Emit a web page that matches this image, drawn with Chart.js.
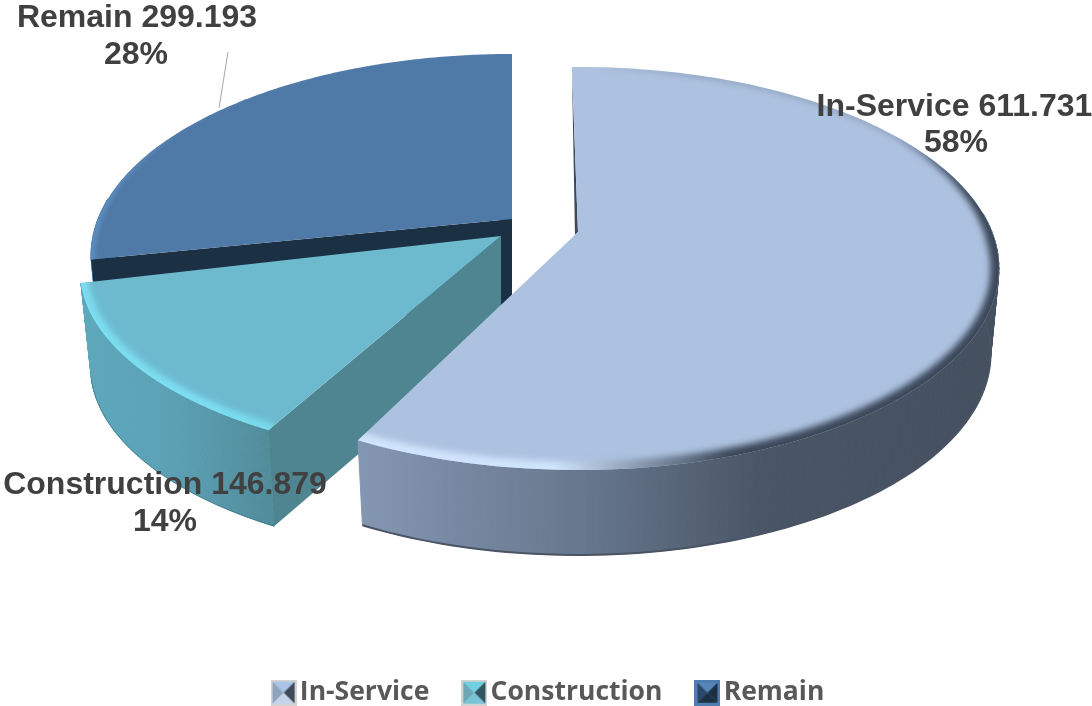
<!DOCTYPE html>
<html><head><meta charset="utf-8">
<style>html,body{margin:0;padding:0;background:#fff;overflow:hidden}canvas{display:block}</style>
<script src="https://cdn.jsdelivr.net/npm/chart.js@4"></script>
</head><body><canvas id="c" width="1092" height="706"></canvas>
<script>
const categories = ['In-Service','Construction','Remain'];
const values = [611.731,146.879,299.193];
const percents = [58,14,28];
const topColors = ['#adc2e0','#6dbacf','#4f79a6'];
const cutColors = ['#3e4a5a','#4f8591','#1c3043'];
const wallStops = [
  [[358,'#8497b2'],[600,'#64748a'],[760,'#4a5666'],[1000,'#44505e']],
  [[80,'#5ea9bd'],[180,'#5b9fb3'],[280,'#4f8a98']],
  [[90,'#4f7fb0'],[300,'#4a6f98']]
];
const rimColors = [
  {lo:[208,228,252],hi:[60,72,90]},
  {lo:[125,222,240],hi:[115,208,228]},
  {lo:[92,140,190],hi:[70,110,150]}
];
// per-slice placement of the exploded wedges (apex, small start/end rotation in degrees, flattening, wall height, wall narrowing)
const place = [
  {x:578,y:232,r0:-1,r1:-1.75,sy:1,dep:85,sh:.98},
  {x:501,y:236,r0:0,r1:-2.2,sy:.95,dep:96,sh:.975},
  {x:512,y:219,r0:.3,r1:0,sy:1,dep:86,sh:.98}
];
const RX=414, RY=194.9, P=.181;
const labelPos = [
  {x1:954.5,x2:956,y1:107,y2:143},
  {x1:165,x2:165,y1:485,y2:522},
  {x1:137,x2:136,y1:18,y2:55}
];

function pt(i,a,r,t){ // a = chart.js angle (0 = 3 o'clock), r = 0..1, t = position along the slice
  const rot=place[i].r0+(place[i].r1-place[i].r0)*t;
  const th=a+Math.PI/2+rot*Math.PI/180;
  const u=Math.sin(th)*r, v=-Math.cos(th)*r, f=1/(1-P*v);
  return {x:place[i].x+RX*u*f,y:place[i].y+RY*place[i].sy*v*f,v,u};
}
function bot(i,p){return {x:place[i].x+(p.x-place[i].x)*place[i].sh,y:p.y+place[i].dep};}
function poly(ctx,pts){ctx.beginPath();pts.forEach((p,k)=>k?ctx.lineTo(p.x,p.y):ctx.moveTo(p.x,p.y));ctx.closePath();}
function mix(a,b,t){return a.map((c,k)=>Math.round(c+(b[k]-c)*t));}

function drawSlice(ctx,chart,i){
  const el=chart.getDatasetMeta(0).data[i];
  const a0=el.startAngle,a1=el.endAngle,N=160;
  const arc=[];for(let k=0;k<=N;k++)arc.push(pt(i,a0+(a1-a0)*k/N,1,k/N));
  const apex=pt(i,a0,0,0);
  // wall (only the part facing the viewer)
  const s0=wallStops[i][0][0],s1=wallStops[i][wallStops[i].length-1][0];
  const g=ctx.createLinearGradient(s0,0,s1,0);
  wallStops[i].forEach(s=>g.addColorStop((s[0]-s0)/(s1-s0),s[1]));
  ctx.fillStyle=g;ctx.strokeStyle=g;ctx.lineWidth=1;
  const front=arc.filter(p=>p.v>-.1);
  for(let k=0;k<N;k++){
    if(arc[k].v<-.1)continue;
    const q=[arc[k],arc[k+1],bot(i,arc[k+1]),bot(i,arc[k])];
    poly(ctx,q);ctx.fill();ctx.stroke();
  }
  // darker lower edge of the wall
  ctx.beginPath();front.forEach((p,k)=>{const b=bot(i,p);k?ctx.lineTo(b.x,b.y):ctx.moveTo(b.x,b.y);});
  ctx.strokeStyle=i===0?'#4a5464':'rgba(60,110,125,.6)';ctx.lineWidth=i===0?2:1;ctx.stroke();
  // visible cut faces
  ctx.fillStyle=cutColors[i];
  if(i===0){ // narrow visible sliver of the far cut
    poly(ctx,[arc[0],apex,{x:apex.x-3,y:apex.y+3}]);ctx.fill();
  }
  if(i===1){const e=arc[0];poly(ctx,[apex,e,bot(i,e),bot(i,apex)]);ctx.fill();}
  if(i===2){
    const e=arc[0];poly(ctx,[apex,e,bot(i,e),bot(i,apex)]);ctx.fill();
    poly(ctx,[apex,bot(i,apex),{x:apex.x-12,y:apex.y+86},{x:apex.x-12,y:apex.y}]);ctx.fill();
  }
  // top
  const top=[apex,...arc];
  poly(ctx,top);ctx.fillStyle=topColors[i];ctx.fill();
  // soft bevel rim, rendered apart and blurred into the top face
  const off=document.createElement('canvas');off.width=chart.width;off.height=chart.height;
  const o=off.getContext('2d');o.lineCap='round';
  for(let k=0;k<N;k++){
    const p=arc[k],q=arc[k+1];
    const fr=Math.min(1,Math.max(0,(p.v+.55)/.6));
    let hi=Math.min(1,Math.max(0,(p.u+.05)/.35));
    if(i===1)hi=Math.min(1,Math.max(0,(p.x-200)/80))*.5;
    const c=mix(rimColors[i].lo,rimColors[i].hi,hi);
    const w=i===2?9:i===1?15:17;
    o.beginPath();o.moveTo(p.x,p.y);o.lineTo(q.x,q.y);
    o.lineWidth=w*(.12+.88*fr);
    o.strokeStyle=`rgba(${c[0]},${c[1]},${c[2]},${.55+.45*fr})`;
    o.stroke();
  }
  ctx.save();poly(ctx,top);ctx.clip();
  ctx.filter=i===2?'blur(2px)':'blur(3px)';
  ctx.drawImage(off,0,0);
  ctx.filter='none';
  ctx.restore();
}

const pie3d={
  id:'pie3d',
  beforeDatasetsDraw(chart){
    const ctx=chart.ctx;ctx.save();
    [2,1,0].forEach(i=>drawSlice(ctx,chart,i));
    ctx.restore();
    return false;
  },
  afterDraw(chart){
    const ctx=chart.ctx;ctx.save();
    ctx.strokeStyle='#a6a6a6';ctx.lineWidth=1;
    ctx.beginPath();ctx.moveTo(228,52);ctx.lineTo(219,108);ctx.stroke();
    ctx.font='bold 32px "Liberation Sans"';ctx.fillStyle='#404040';
    ctx.textAlign='center';ctx.textBaseline='middle';
    categories.forEach((c,i)=>{
      ctx.fillText(c+' '+values[i].toFixed(3),labelPos[i].x1,labelPos[i].y1);
      ctx.fillText(percents[i]+'%',labelPos[i].x2,labelPos[i].y2);
    });
    ctx.restore();
  }
};
function swatch(i){
  const c=document.createElement('canvas');c.width=26;c.height=26;
  const x=c.getContext('2d');const S=26;
  const tri=(pts,col)=>{x.fillStyle=col;x.beginPath();pts.forEach((p,k)=>k?x.lineTo(p[0],p[1]):x.moveTo(p[0],p[1]));x.closePath();x.fill();};
  const sets=[['#a9c4e8','#8fa3bf','#3f4a59','#c3d3ea'],['#6fd0e4','#6aa8b8','#2f5660','#79c3d6'],['#5686b8','#2d4768','#1c3043','#1c3043']];
  if(i===2){x.fillStyle='#4f7db0';x.fillRect(0,0,S,S);}
  const m=i===2?3:2;const o=S-m;const C=S/2;
  if(i!==2){x.fillStyle='#d2d2d2';x.fillRect(0,0,S,S);}
  const s=sets[i];
  tri([[m,m],[o,m],[C,C]],s[0]);
  tri([[m,m],[C,C],[m,o]],s[1]);
  tri([[o,m],[C,C],[o,o]],s[2]);
  tri([[m,o],[o,o],[C,C]],s[3]);
  return c;
}
new Chart(document.getElementById('c'),{
  type:'pie',
  data:{labels:categories,datasets:[{data:values,backgroundColor:topColors,borderWidth:0}]},
  options:{
    responsive:false,animation:false,
    layout:{padding:{bottom:-10,left:13}},
    plugins:{
      tooltip:{enabled:false},
      legend:{position:'bottom',labels:{
        usePointStyle:true,pointStyleWidth:6,padding:42,color:'#595959',
        font:{family:'"Open Sans"',size:26.5,weight:'bold'},
        generateLabels(ch){return categories.map((t,i)=>({text:t,fillStyle:topColors[i],strokeStyle:topColors[i],lineWidth:0,pointStyle:swatch(i),index:i,datasetIndex:0,hidden:false,fontColor:'#595959'}));}
      }}
    }
  },
  plugins:[pie3d]
});
</script></body></html>
